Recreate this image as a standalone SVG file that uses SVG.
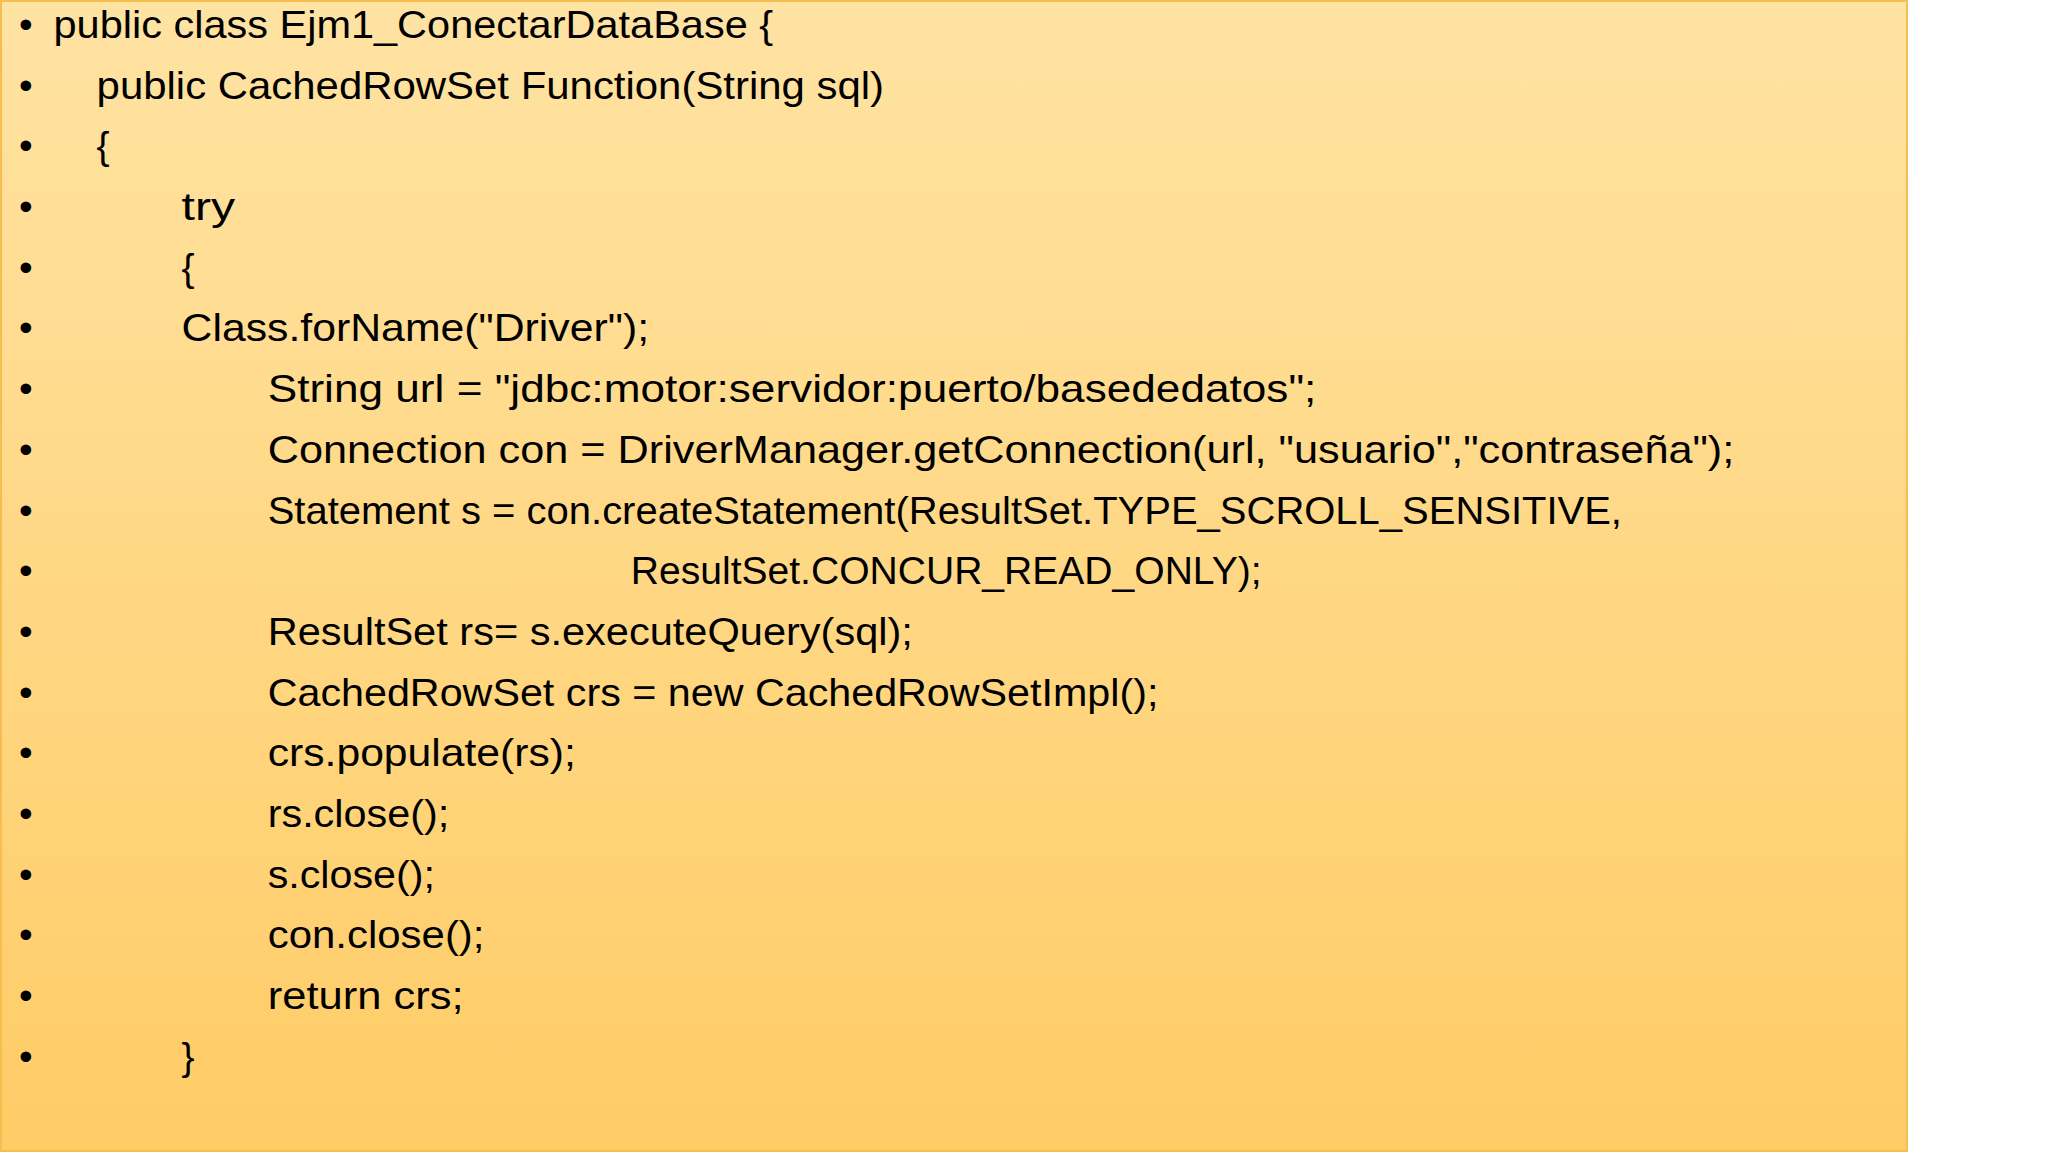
<svg xmlns="http://www.w3.org/2000/svg" width="2048" height="1152" viewBox="0 0 2048 1152">
<defs>
<linearGradient id="bg" x1="0" y1="0" x2="0" y2="1">
<stop offset="0" stop-color="#FFE3A3"/>
<stop offset="1" stop-color="#FFCC66"/>
</linearGradient>
<style>
text{font-family:"Liberation Sans","Open Sans",sans-serif;font-size:39px;fill:#000}
</style>
</defs>
<rect width="2048" height="1152" fill="#fff"/>
<rect x="1" y="1" width="1906" height="1150" fill="url(#bg)" stroke="#F5BE4E" stroke-width="2"/>
<g id="bullets">
<text x="19" y="38">•</text><text x="19" y="98.6">•</text><text x="19" y="159.3">•</text><text x="19" y="220">•</text><text x="19" y="280.7">•</text><text x="19" y="341.4">•</text><text x="19" y="402.1">•</text><text x="19" y="462.8">•</text><text x="19" y="523.5">•</text><text x="19" y="584.2">•</text><text x="19" y="644.9">•</text><text x="19" y="705.6">•</text><text x="19" y="766.3">•</text><text x="19" y="827">•</text><text x="19" y="887.7">•</text><text x="19" y="948.4">•</text><text x="19" y="1009.1">•</text><text x="19" y="1069.8">•</text>
</g>
<g id="code">
<text x="53.5" y="38" textLength="719.6" lengthAdjust="spacingAndGlyphs">public class Ejm1_ConectarDataBase {</text>
<text x="96.6" y="98.6" textLength="787.5" lengthAdjust="spacingAndGlyphs">public CachedRowSet Function(String sql)</text>
<text x="96.6" y="159.3">{</text>
<text x="181.5" y="220" textLength="53.5" lengthAdjust="spacingAndGlyphs">try</text>
<text x="181.5" y="280.7">{</text>
<text x="181.5" y="341.4" textLength="467.6" lengthAdjust="spacingAndGlyphs">Class.forName("Driver");</text>
<text x="267.7" y="402.1" textLength="1048.7" lengthAdjust="spacingAndGlyphs">String url = "jdbc:motor:servidor:puerto/basededatos";</text>
<text x="267.7" y="462.8" textLength="1466.6" lengthAdjust="spacingAndGlyphs">Connection con = DriverManager.getConnection(url, "usuario","contraseña");</text>
<text x="267.7" y="523.5" textLength="1354.3" lengthAdjust="spacingAndGlyphs">Statement s = con.createStatement(ResultSet.TYPE_SCROLL_SENSITIVE,</text>
<text x="630.8" y="584.2" textLength="630.8" lengthAdjust="spacingAndGlyphs">ResultSet.CONCUR_READ_ONLY);</text>
<text x="267.7" y="644.9" textLength="645.2" lengthAdjust="spacingAndGlyphs">ResultSet rs= s.executeQuery(sql);</text>
<text x="267.7" y="705.6" textLength="890.7" lengthAdjust="spacingAndGlyphs">CachedRowSet crs = new CachedRowSetImpl();</text>
<text x="267.7" y="766.3" textLength="308.2" lengthAdjust="spacingAndGlyphs">crs.populate(rs);</text>
<text x="267.7" y="827" textLength="181.5" lengthAdjust="spacingAndGlyphs">rs.close();</text>
<text x="267.7" y="887.7" textLength="167.2" lengthAdjust="spacingAndGlyphs">s.close();</text>
<text x="267.7" y="948.4" textLength="216.8" lengthAdjust="spacingAndGlyphs">con.close();</text>
<text x="267.7" y="1009.1" textLength="195.9" lengthAdjust="spacingAndGlyphs">return crs;</text>
<text x="181.5" y="1069.8">}</text>
</g>
</svg>
